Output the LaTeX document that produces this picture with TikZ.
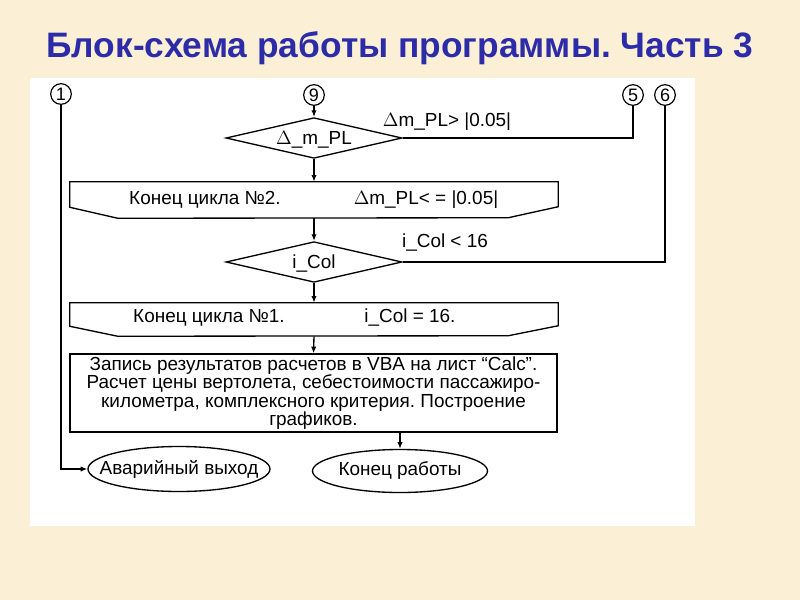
\documentclass[tikz,border=0pt]{standalone}
\usepackage{fontspec}
\setmainfont{Liberation Sans}
\usetikzlibrary{shapes.geometric,arrows.meta,calc}
\definecolor{bgbeige}{RGB}{251,240,214}
\definecolor{titleblue}{RGB}{44,44,168}
\frenchspacing
\begin{document}
\begin{tikzpicture}[x=0.75pt,y=-0.75pt,
  line/.style={line width=1pt,black},
  arr/.style={line,-{Latex[length=5pt,width=4pt]}},
  conn/.style={circle,draw,line width=0.9pt,minimum size=15.5pt,inner sep=0pt,font=\fontsize{13.5}{14}\selectfont},
  decis/.style={diamond,draw,line width=1pt,aspect=4.4,minimum width=132pt,minimum height=30.5pt,inner sep=0pt,text depth=0pt,font=\fontsize{14.2}{16}\selectfont},
  loopend/.style={rectangle,minimum width=366pt,inner sep=0pt},
  txt/.style={inner sep=0pt,font=\fontsize{14.2}{16}\selectfont},
  procbox/.style={rectangle,draw,line width=1pt,minimum width=365.25pt,minimum height=58.5pt,inner sep=0pt,align=center,font=\fontsize{14.2}{13.9}\selectfont},
  term/.style={ellipse,draw,line width=1pt,inner sep=0pt,label={[inner sep=0pt,font=\fontsize{14.2}{16}\selectfont]center:#1}}]
\useasboundingbox (0,0) rectangle (800,600);
\fill[bgbeige] (0,0) rectangle (800,600);
\fill[white] (30,78) rectangle (695,526);
\node[anchor=base,text=titleblue,font=\bfseries\fontsize{26.5}{30}\selectfont] (title) at (400,57) {Блок-схема работы программы. Часть 3};

\node[conn] (c1) at (61,94) {1};
\node[conn] (c9) at (314,95) {9};
\node[conn] (c5) at (633,95) {5};
\node[conn] (c6) at (665,95) {6};

\node[decis] (d1) at (314,138) {$\Delta$\_m\_PL};
\node[txt] (l1) at (447,122) {$\Delta$m\_PL> |0.05|};

\node[loopend,minimum height=27pt] (le1) at (314,200) {};
\draw[line] (le1.north west) -- (le1.north east) -- ++(0,25) -- ++(-50,11) -- ($(le1.south west)+(48,0)$) -- ++(-48,-11) -- cycle;
\node[txt] (le1a) at (205,200) {Конец цикла №2.};
\node[txt] (le1b) at (426,200) {$\Delta$m\_PL< = |0.05|};

\node[decis] (d2) at (314,262) {i\_Col};
\node[txt] (l2) at (445,243) {i\_Col < 16};

\node[loopend,minimum height=24.75pt] (le2) at (314,319.5) {};
\draw[line] (le2.north west) -- (le2.north east) -- ++(0,23) -- ++(-50,10) -- ($(le2.south west)+(48,0)$) -- ++(-48,-10) -- cycle;
\node[txt] (le2a) at (209,318) {Конец цикла №1.};
\node[txt] (le2b) at (410,318) {i\_Col = 16.};

\node[procbox] (p) at (313.5,393) {Запись результатов расчетов в VBA на лист “Calc”.\\Расчет цены вертолета, себестоимости пассажиро-\\километра, комплексного критерия. Построение\\графиков.};

\node[term={Аварийный выход},minimum width=136.5pt,minimum height=33.75pt] (e1) at (179,469) {};
\node[term={Конец работы},minimum width=131.25pt,minimum height=32.25pt] (e2) at (400,471) {};

\draw[arr] (c9) -- (d1.north);
\draw[line] (d1.east) -- (c5 |- d1.east) -- (c5);
\draw[arr] (d1.south) -- (le1.north);
\draw[arr] (le1.south) -- (d2.north);
\draw[line] (c6) -- (c6 |- d2.east) -- (d2.east);
\draw[arr] (d2.south) -- (le2.north);
\draw[arr] (le2.south) -- (p.north);
\draw[arr] (e2.north |- p.south) -- (e2.north);
\draw[arr] (c1) -- (c1 |- e1.west) -- (e1.west);
\end{tikzpicture}
\end{document}
